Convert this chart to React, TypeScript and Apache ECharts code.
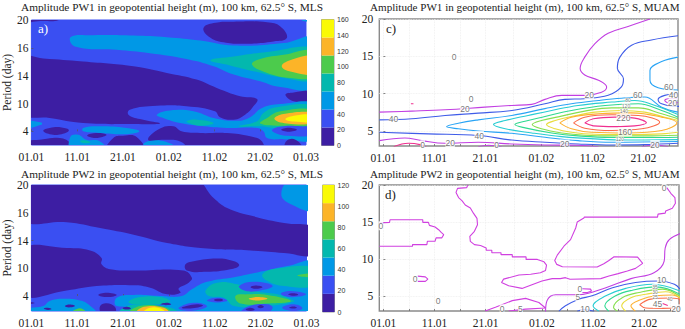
import React, { useEffect, useRef } from "react";
import * as echarts from "echarts";

type Pt = number[];
type Region = [number, Pt[]];

const SERIF = "Liberation Serif";
const titles = [
  "Amplitude PW1 in geopotential height (m), 100 km, 62.5° S, MLS",
  "Amplitude PW2 in geopotential height (m), 100 km, 62.5° S, MLS",
  "Amplitude PW1 in geopotential height (m), 100 km, 62.5° S, MUAM",
  "Amplitude PW2 in geopotential height (m), 100 km, 62.5° S, MUAM",
];
const dateLabels = ["01.01", "11.01", "21.01", "01.02", "11.02", "21.02", "01.03"];
const mlsPeriodLabels = ["4", "10", "14", "16", "20"];
const muamDays = [0, 10, 20, 31, 41, 51];
const muamTickDays = [0, 5, 10, 15, 20, 25.5, 31, 36, 41, 46, 51, 56];
const fillLevels = ["#3d1ea3", "#3a4ff2", "#0098e6", "#03b8ae", "#4ccb4c", "#fcb428", "#fafa05"];
const pw1Bar = [0, 160];
const pw2Bar = [0, 120];

// level indices
const D = 0, B = 1, A = 2, T = 3, G = 4, O = 5, Y = 6;

// Panel a: filled regions, x = date position (10 per label), y = period position (10 per label)
const regionsA: Region[] = [
  [D, [[-2, 42], [6, 42], [6, 40], [2, 39.6], [-2, 39.4]]],
  [A, [[58.4, 42], [62, 42], [62, 39], [60, 39.5], [59, 40]]],
  [D, [[37.6, 37.1], [39.8, 38.9], [44.2, 39.4], [51.5, 39.2], [54.4, 37.7], [55.8, 33.5], [52.9, 32.3], [47.1, 31.5], [42, 32], [38.7, 34.1]]],
  [A, [[8.6, 33.9], [13.5, 34.5], [22.3, 34.4], [29.6, 33.8], [36.9, 32.6], [44.2, 30.8], [55.1, 31.7], [62, 33.8], [63, 25], [62, 15.6], [54.4, 15.9], [50, 18], [44.2, 20.4], [39.8, 23.4], [33.9, 26], [25.9, 28.1], [18.6, 29.3], [9.5, 30.5]]],
  [T, [[39.1, 25.5], [44.2, 26.9], [51.5, 28.5], [62, 30], [63, 24], [62, 18.5], [55.1, 19.2], [48.5, 21.6], [43.4, 23.7]]],
  [G, [[48.2, 24], [50, 26], [55.1, 27.5], [62, 29], [63, 24], [62, 19.5], [56.6, 19.2], [51.5, 21]]],
  [O, [[54.7, 23.4], [57.3, 26], [62, 27], [63, 24], [62, 20.7], [57.3, 21.2]]],
  [D, [[-2, 26.6], [2.6, 26.2], [11.3, 25.1], [22.3, 23.4], [29.6, 21], [36.1, 18.6], [40.5, 15.6], [45.6, 12.6], [49.3, 11.6], [48.5, 9], [46.7, 6], [44.2, 4.2], [41.2, 5.1], [40.1, 7.2], [33.9, 9], [27.4, 9.2], [21.5, 7.8], [21.2, 6], [23.7, 4.4], [28.1, 2.8], [22.3, 2.6], [11.3, 3], [4, 4.8], [-2, 6.3], [-3, 16]]],
  [D, [[55.5, 13.2], [57.3, 14], [62, 14.4], [63, 12], [62, 10.4], [57.3, 10.8]]],
  [A, [[27.4, 6], [30.3, 7.5], [35.4, 7.2], [39.8, 4.8], [44.9, 3.8], [47.8, 5.1], [50.4, 8.4], [54.4, 9.8], [62, 9.9], [63, 3], [62, -3], [55.1, -2.8], [51.5, -2.4], [50.7, 0], [49.3, 1.2], [42.7, 1.2], [36.9, 2], [32.5, 3], [28.8, 4.8]]],
  [T, [[33.9, 3.6], [36.1, 4.2], [39.8, 3], [36.9, 2], [34.7, 2.8]]],
  [T, [[45.3, 1.8], [49.3, 3.6], [50.7, 6.6], [53.6, 8.7], [62, 9.2], [63, 5], [62, 1], [52.9, 1.2], [50, 1.8]]],
  [G, [[50, 2.8], [51.5, 4.8], [54.4, 7.2], [62, 7.8], [63, 5], [62, 2.5], [55.1, 2]]],
  [O, [[53.1, 4.4], [55.1, 6.2], [62, 6.8], [63, 5], [62, 3], [55.8, 2.8]]],
  [Y, [[55.5, 4.4], [57.7, 5.7], [62, 6], [63, 5], [62, 3.5], [57.3, 3.5]]],
  [B, [[52.6, 0.6], [55.1, 1.8], [58.8, 1.8], [62, 1.3], [62, -1.2], [55.8, -1.6], [53.3, -0.6]]],
  [D, [[54.6, 0.6], [56.2, 1.3], [58, 0.6], [56.2, -0.1]]],
  [D, [[55.5, -6], [55.8, -3.4], [57.7, -3], [59.1, -6]]],
  [A, [[-2, 3.6], [2.2, 3.2], [2.2, 2.4], [-2, 1.2]]],
  [D, [[2.6, 0.2], [4, 1.2], [6.6, 1.4], [8.2, 0.4], [6.6, -1], [4, -1]]],
  [A, [[11.3, 1.2], [15, 1.8], [20.8, 1.2], [23.6, 0], [20.8, -1], [15, -0.6], [11.3, 0]]],
  [D, [[12.2, -1.4], [14.2, -0.6], [16.4, -1.2], [15, -2.2], [13.1, -2.2]]],
  [D, [[-2, -4.2], [2.6, -2.8], [6.2, -2.4], [8.4, -4.2], [8.2, -7], [-2, -7]]],
  [A, [[8.5, -2], [10.2, -1.2], [12, -3], [15, -3.6], [16.4, -7], [8.8, -7]]],
  [T, [[10.6, -3.5], [11.7, -3.2], [12.9, -4], [11.3, -4.2]]],
  [D, [[16.4, -7], [17.9, -2.4], [20, -1.6], [23, -2], [24.5, -7]]],
  [A, [[24.8, -4], [28.8, -3.5], [32.5, -7], [24.8, -7]]],
  [D, [[25.5, -3], [28.1, 1], [31, 1.8], [32.8, 0], [36.9, -0.6], [42.7, -0.6], [47.8, -1.8], [50.4, -3.6], [50.4, -7], [35.4, -7], [32.5, -3.6], [28.8, -3]]],
];

// Panel b: filled regions
const regionsB: Region[] = [
  [D, [[-2, 42], [35.4, 42], [39.8, 35.2], [42.7, 31.7], [48.5, 28.7], [55.1, 26.3], [62, 24.7], [63, 20], [62, 14.7], [55.1, 15.5], [47.8, 16.4], [38.3, 17.1], [29.6, 19.1], [22.3, 22.1], [15, 24.5], [7.7, 26.6], [-2, 26.9], [-3, 35]]],
  [A, [[54.5, 36.7], [56.6, 42], [62, 42], [63, 36], [62, 30.7], [56.6, 33.1]]],
  [D, [[-2, 17.3], [7.7, 17.3], [12.8, 16.4], [15.3, 13.7], [15.3, 11.4], [17.2, 9.6], [22.3, 9.2], [33.1, 9.2], [35, 6.6], [34.3, 4.8], [32.1, 2.7], [32.5, 1.2], [29.6, 0.6], [25.9, 3], [22.3, 3.9], [14.2, 3.6], [7.7, 2], [-2, 0], [-3, 9]]],
  [D, [[33.6, 11.4], [35.4, 12.5], [40.5, 13.5], [44.2, 12.5], [45.3, 11], [43.4, 9.6], [38.3, 8.7], [33.9, 9.2]]],
  [A, [[18.6, -0.6], [22.3, 0.4], [28.1, 0], [32.8, 0], [35, 2.4], [38.3, 5.1], [44.2, 6.8], [50.7, 9], [55.8, 10.8], [62, 12.3], [63, 3], [62, -7], [31, -7], [28.8, -3.6], [18.6, -3.6]]],
  [T, [[50.4, 7.8], [53.6, 9.9], [62, 10.4], [63, 7], [62, 3.6], [55.1, 3.6], [51.5, 5.4]]],
  [G, [[58, 7.4], [62, 8.1], [62, 6.8]]],
  [T, [[38, 2], [40.5, 4.8], [44.9, 4.2], [48.5, 1.8], [53.6, 0.6], [56.6, -1.2], [57.3, -2], [51.5, -3.6], [44.2, -3.6], [42, -0.6], [38.7, 0]]],
  [G, [[44.5, 0], [47.1, 0.6], [51.5, 0.4], [56.6, -1.8], [51.5, -2.7], [45.6, -2.7]]],
  [O, [[47.4, -1], [49.3, -0.4], [51.5, -1], [49.3, -1.6]]],
  [B, [[45.3, 3.6], [48.5, 5.1], [52.6, 3.6], [49.3, 1.8], [46.4, 2]]],
  [D, [[47.8, 3.2], [48.9, 3.8], [50.4, 3.2], [48.9, 2.6]]],
  [B, [[54.4, 0.8], [56.6, 1.8], [59.9, 0.6], [56.6, -0.4]]],
  [D, [[56, 0.6], [57.2, 1], [58.2, 0.5], [56.9, 0.1]]],
  [B, [[32.1, -4.2], [35.4, -2.4], [38.3, -3.6], [36.1, -5.1], [32.8, -5.1]]],
  [D, [[32.8, -4.2], [36.1, -3], [37.4, -3.5], [34.7, -4.5]]],
  [B, [[38.3, -1.6], [40.5, -0.6], [42.7, -1.6], [40.5, -2.3]]],
  [D, [[39.8, -1.4], [40.9, -1], [41.8, -1.4], [40.9, -1.9]]],
  [B, [[45.6, -6.5], [47.1, -3.9], [51.5, -3], [52.6, -4.4], [50.7, -6.5]]],
  [D, [[46.7, -4.9], [47.8, -4.2], [48.7, -4.9], [47.8, -5.4]]],
  [D, [[49.3, -3.9], [50, -3.2], [50.7, -3.9], [50, -4.4]]],
  [B, [[54.7, -4.2], [57.3, -3], [59.1, -4.4], [57.3, -5.4]]],
  [D, [[56.2, -4.2], [57.2, -3.8], [57.9, -4.2], [57.2, -4.5]]],
  [T, [[21.2, -2], [23.7, -0.4], [28.1, -0.4], [30.3, -2], [28.1, -3], [22.3, -3]]],
  [T, [[19.3, -6], [21.9, -3.2], [30.3, -4.2], [31.8, -6]]],
  [G, [[21.5, -6], [23.7, -3.6], [28.8, -3.9], [30.3, -6]]],
  [O, [[23, -6], [24.5, -3.9], [28.8, -4.2], [29.9, -6]]],
  [Y, [[24.5, -6], [25.5, -4.4], [28.1, -4.4], [29.2, -6]]],
  [D, [[28.1, -3], [29.6, -2.4], [30.5, -3], [29.3, -3.3]]],
  [A, [[4, -1.8], [6.9, -1], [10.6, -1.6], [12.4, -3], [13.9, -6], [-2, -6.5], [-2, -4.8], [2.6, -3.6]]],
  [G, [[8.8, -6], [10.6, -4.4], [11.9, -6]]],
  [D, [[-2, -2], [0.7, -2.5], [-2, -3]]],
  [D, [[2.7, -4.5], [3.6, -4.2], [4.4, -4.7], [3.6, -5]]],
  [D, [[7.3, -3.6], [8.4, -3.1], [9.5, -3.6], [8.2, -4.1]]],
  [D, [[14.6, 0.4], [16.4, 1.2], [18.6, 0.4], [16.6, -0.4]]],
  [D, [[15, -3.6], [16.4, -2.6], [18.2, -3.9], [18.2, -6], [15.3, -6]]],
  [D, [[19.9, -4.4], [20.8, -3.9], [21.7, -4.5], [20.8, -4.9]]],
];

const PURPLE = "#c23fe2", BLUE = "#3f5ce8", AZURE = "#29a4f5", CYAN = "#27cdd2", SEA = "#2fd990", LIME = "#86df4f",
  YEL = "#e9dc3d", ORG = "#fdb030", RED = "#fb6a4a", PINK = "#ef2f8f", MAGENTA = "#d040e0";

// Panel c: contour lines, x = day from 01.01, y = period (day)
const contoursC: [string, Pt[]][] = [
  [PURPLE, [[-0.8, 7.53], [5.6, 7.67], [12.1, 7.85], [19.9, 8.2], [25.2, 8.43], [29.1, 8.57], [31.7, 9.24], [35, 9.78], [39.5, 9.78], [42.8, 10.2], [43.8, 10.9], [42.2, 11.8], [39.5, 12.5], [38.6, 13.4], [39.5, 14.9], [41.5, 16.7], [44.1, 18.1], [48, 19], [52.3, 20]]],
  [BLUE, [[-0.8, 6.5], [5.6, 6.64], [12.1, 7.09], [18.6, 7.4], [25.2, 7.76], [31.7, 8.65], [35.6, 9.24], [39.5, 9.33], [44.1, 9.78], [46.7, 10.9], [47.1, 12], [45.9, 13.4], [46.4, 14.9], [48.7, 16.5], [52.6, 17.2], [57.8, 17.76]]],
  [AZURE, [[57.8, 14.9], [54.6, 14.3], [52.3, 13.1], [52.3, 11.8], [53.9, 10.8], [57.8, 10.5]]],
  [AZURE, [[57.8, 7.53], [54.6, 8.2], [51.3, 9.55], [46.7, 9.4], [42.2, 9.1], [36.9, 8.65], [31.7, 8], [25.2, 7.09], [18.6, 6.5], [14.7, 6.05], [12.4, 5.6], [14.7, 5.3], [18.6, 5], [25.2, 4.7], [31.7, 4.17], [38.2, 3.72], [44.8, 3.5], [57.8, 3.6]]],
  [CYAN, [[57.8, 7.2], [53.3, 8.43], [49.3, 9.1], [44.8, 8.88], [38.2, 8.43], [33, 7.76], [28.4, 7.09], [23.9, 6.41], [21.6, 5.87], [23.9, 5.3], [29.1, 4.75], [35, 4.26], [41.5, 3.95], [48, 3.8], [57.8, 3.85]]],
  [SEA, [[57.8, 6.86], [54.6, 7.76], [50, 8.65], [43.5, 8.43], [36.9, 7.76], [31.7, 6.95], [27.8, 6.32], [25.8, 5.87], [27.8, 5.43], [33, 4.75], [38.2, 4.35], [44.8, 4.13], [51.3, 4.13], [57.8, 4.17]]],
  [LIME, [[57.8, 6.64], [54.6, 7.31], [50, 8.1], [44.8, 8.1], [39.5, 7.67], [34.3, 6.9], [31, 6.41], [29.2, 5.87], [31, 5.3], [35, 4.75], [39.5, 4.44], [44.8, 4.35], [51.3, 4.35], [57.8, 4.44]]],
  [YEL, [[57.8, 6.41], [55.2, 6.86], [51.3, 7.53], [46.7, 7.76], [41.5, 7.53], [36.9, 6.95], [33.7, 6.41], [32, 5.87], [33.7, 5.3], [36.9, 4.84], [41.5, 4.57], [48, 4.53], [54.6, 4.62], [57.8, 4.84]]],
  [ORG, [[34.6, 6.1], [36.9, 6.86], [42.2, 7.31], [48.7, 7.44], [54.6, 6.86], [57.6, 6.1], [54.6, 5.07], [48, 4.75], [40.8, 4.84], [36.9, 5.3], [34.6, 6.1]]],
  [RED, [[37.3, 6.1], [39.5, 6.86], [44.8, 7.18], [50, 7.09], [54.2, 6.19], [50.7, 5.3], [44.8, 5.07], [39.5, 5.38], [37.3, 6.1]]],
  [PINK, [[39.5, 6.1], [41.2, 6.64], [45.4, 6.86], [49.3, 6.73], [51.6, 6.1], [49.3, 5.7], [45.4, 5.6], [41.2, 5.7], [39.5, 6.1]]],
  [BLUE, [[57.8, 10], [55.2, 9.78], [53.9, 9.24], [54.6, 8.65], [57.2, 8.3], [58, 8.3]]],
  [PURPLE, [[57.8, 9.33], [55.9, 9.33], [55.2, 9.1], [56.2, 8.74], [57.8, 8.83]]],
  [BLUE, [[-0.8, 4.84], [8.8, 4.62], [18.6, 4.4], [25.2, 3.8], [31.7, 3.5], [38.2, 3.27], [44.8, 3.14], [51.3, 3.18], [57.8, 3.36]]],
  [PURPLE, [[-0.8, 3.72], [4.2, 4.08], [7.5, 3.72], [12.1, 3.36], [18.6, 3.5], [25.2, 3.27], [31.7, 3.14], [38.2, 3.1], [42.2, 2.9]]],
  [PURPLE, [[50.7, 2.9], [53.3, 3.14], [55.9, 2.9]]],
  [PINK, [[2, 2.9], [4.9, 3.36], [7.2, 3.18], [8.5, 2.8]]],
  [PURPLE, [[18.6, 2.9], [20.6, 3.1], [23.2, 2.9]]],
  [PINK, [[5.4, 8.65], [5.9, 8.65]]],
];
const labelsC: [number, number, string][] = [
  [13.9, 14.93, "0"], [17.2, 9.24, "0"], [16, 8, "20"], [2, 6.55, "40"], [18.8, 4.4, "40"], [13.1, 3.36, "20"],
  [7.7, 3.18, "0"], [22.2, 3.1, "0"], [35.6, 3.27, "20"], [40.4, 9.78, "20"], [49.9, 9.78, "60"], [56, 10.9, "60"],
  [56.9, 9.78, "40"], [56.7, 8.7, "20"], [47.1, 6.7, "220"], [47.4, 4.9, "160"], [53.3, 3.2, "20"],
];
const stackLabelsC: [number, number, string][] = [
  [48, 9.15, "80"], [47.6, 8.4, "120"], [47.2, 7.65, "140"],
  [46.4, 3.9, "120"], [46.1, 3.15, "18"],
];

// Panel d: zero contours, traced through their stair corners
const contoursD: [string, Pt[]][] = [
  [MAGENTA, [[-0.8, 11.74], [5.7, 11.74], [5.7, 11.96], [8.5, 11.96], [8.6, 12.41], [10.1, 12.41], [10.3, 12.86], [11.4, 12.86], [11.8, 13.3], [11.3, 13.6], [10.8, 13.97], [10.1, 14.33], [9, 14.55], [8.8, 14.96], [7.7, 14.96], [7.7, 15.31], [1.3, 15.31], [1.2, 14.96], [-0.8, 14.87]]],
  [MAGENTA, [[16.5, 20], [16.3, 19.64], [14.5, 19.55], [14.2, 19], [14.7, 18.3], [15.4, 17.86], [16, 17.3], [17, 16.9], [17.6, 16.2], [18.3, 15.5], [18.4, 14.64], [17.8, 13.75], [16.9, 13.08], [17, 12.4], [17.8, 11.96], [19, 11.83], [20.1, 11.5], [20.1, 11.2], [21.2, 11.2], [21.2, 10.85], [23, 10.85], [23, 10.6], [25.2, 10.6], [25.2, 10.3], [27.9, 10.3], [27.9, 9.96], [30.1, 9.96], [31.4, 9.64], [31.9, 9.2], [31.7, 8.48], [30.7, 8.17], [28.8, 7.95], [26.5, 7.85], [23.5, 7.3], [23.1, 6.85], [24.5, 6.4], [27.1, 6.05], [31, 7.05], [33, 7.37], [34.6, 7.37], [35.6, 7.5], [36.5, 7.28], [42.5, 7.37], [44.1, 7.72], [45.9, 8.04], [47.7, 8.4], [49.3, 8.75], [50.7, 9.42], [49.7, 10.27], [45.1, 10.31], [44.1, 9.82], [43.1, 9.38], [41.8, 8.93], [35, 8.97], [33.9, 9.29], [33.5, 9.82], [34, 10.54], [35.3, 11.74], [36.6, 12.63], [37.6, 14.2], [37.9, 15], [39.2, 15.54], [39.3, 15.67], [53.6, 15.67], [53.7, 16.07], [55.1, 16.2], [55.2, 16.5], [56.5, 16.87], [57.1, 17.54], [57, 18.3], [56.2, 18.88], [55.4, 19.64]]],
  [MAGENTA, [[6.7, 7.7], [8.2, 7.6], [8.7, 7.3], [8.2, 7], [6.7, 7]]],
  [MAGENTA, [[38.9, 6], [40.5, 5.95], [40.7, 5.7], [39.9, 5.5], [38.9, 5.5]]],
  [MAGENTA, [[19.9, 3], [21.9, 3.5], [25.2, 4.4], [27.8, 4.7], [30.4, 4.15], [31.7, 3.4], [27.8, 3.25], [24.5, 3]]],
];
const smoothContoursD: [string, Pt[]][] = [
  [PURPLE, [[31.7, 2.8], [32, 4.4], [33.7, 5.2], [38.2, 5.2], [43.5, 6.15], [48.4, 7.37], [52.9, 8.17], [54.9, 9.73], [55.1, 11.5], [55.9, 12.63], [58.2, 13.5]]],
  [BLUE, [[34.3, 2.95], [35.6, 3.7], [38.2, 4.6], [40.8, 5.05], [44.8, 6.15], [49.3, 6.85], [53.9, 7.05], [56.9, 6.6], [58, 5.95]]],
  [BLUE, [[37.9, 2.95], [39.2, 3.2], [41.2, 2.95]]],
  [CYAN, [[42.2, 2.95], [41, 3.7], [43.5, 5.05], [47.4, 6.05], [52.6, 6.6], [58, 5.7]]],
  [SEA, [[44.1, 2.95], [43.3, 3.7], [45.4, 5.05], [48.7, 5.8], [53.3, 6.25], [58, 5.25]]],
  [LIME, [[45.8, 2.95], [45, 3.5], [46.7, 4.8], [50, 5.5], [54.6, 5.95], [58, 4.95]]],
  [YEL, [[47.4, 2.95], [46.6, 3.7], [48.4, 4.8], [51.3, 5.25], [55.2, 5.6], [58, 4.8]]],
  [ORG, [[49.3, 2.95], [48.4, 3.7], [50, 4.45], [53.3, 5.05], [56.5, 5.15], [58, 4.7]]],
  [RED, [[50.1, 3.85], [52.3, 4.6], [56.2, 4.75], [58, 4.4], [58, 3.5], [54.6, 3.35], [51.3, 3.4], [50.1, 3.85]]],
  [PINK, [[54.6, 4], [55.6, 3.75]]],
];
const labelsD: [number, number, string][] = [
  [-0.5, 14.5, "0"], [54.9, 19.55, "0"], [6.2, 7.3, "0"], [10.7, 4.4, "0"], [38.4, 6, "0"], [38, 4.9, "5"],
  [26.8, 3.3, "5"], [23.2, 3.3, "0"], [39.4, 3.3, "10"], [54.4, 7.25, "10"], [53.6, 4, "45"], [57.2, 3.3, "20"],
];
const stackLabelsD: [number, number, string][] = [
  [53.1, 6.3, "35"], [53.1, 5.6, "30"], [53.1, 4.95, "25"], [56, 4.6, "40"],
];

const panelBoxes = {
  a: { left: 31, top: 20, width: 275, height: 125 },
  b: { left: 31, top: 185, width: 275.5, height: 126.5 },
  c: { left: 379.3, top: 19, width: 298.7, height: 127 },
  d: { left: 379.3, top: 185, width: 299.7, height: 127 },
  barA: { left: 321.5, top: 19.5, width: 12.5, height: 126 },
  barB: { left: 322.5, top: 185, width: 12, height: 127 },
};

function fillSeries(regions: Region[], axis: number, smooth = 0.45) {
  return {
    type: "custom", xAxisIndex: axis, yAxisIndex: axis, clip: true, silent: true,
    data: regions.map((_, i) => [i]),
    renderItem: (p: any, api: any) => {
      const [lv, pts] = regions[p.dataIndex];
      return { type: "polygon", shape: { points: pts.map((q) => api.coord(q)), smooth }, style: { fill: fillLevels[lv] } };
    },
  };
}
function barSeries(range: number[], axis: number) {
  const step = (range[1] - range[0]) / fillLevels.length;
  return {
    type: "custom", xAxisIndex: axis, yAxisIndex: axis, silent: true,
    data: fillLevels.map((_, i) => [i]),
    renderItem: (p: any, api: any) => {
      const a = api.coord([0, step * p.dataIndex]);
      const b = api.coord([1, step * (p.dataIndex + 1)]);
      return { type: "rect", shape: { x: a[0], y: b[1], width: b[0] - a[0], height: a[1] - b[1] }, style: { fill: fillLevels[p.dataIndex] } };
    },
  };
}
function lineSeries(list: [string, Pt[]][], axis: number, smooth: number | boolean) {
  return list.map(([color, pts]) => ({
    type: "line", xAxisIndex: axis, yAxisIndex: axis, data: pts, smooth, showSymbol: false, symbol: "none", silent: true,
    lineStyle: { color, width: 1.1 },
  }));
}
function labelSeries(list: [number, number, string][], axis: number, fontSize = 8.5) {
  return {
    type: "scatter", xAxisIndex: axis, yAxisIndex: axis, symbolSize: 0, silent: true, z: 5,
    data: list,
    label: {
      show: true, position: "inside", formatter: (p: any) => p.data[2],
      fontFamily: "Liberation Sans", fontSize, color: "#555", backgroundColor: "#fff", padding: 0,
    },
  };
}

const axisFont = { fontFamily: SERIF, fontSize: 11.5, color: "#222" };
const tickStyle = { inside: true, length: 2, lineStyle: { color: "#555", width: 0.7 } };
const dotted = { show: true, lineStyle: { type: "dotted", color: "#ececec", width: 0.8 } };

function App() {
  const ref = useRef<HTMLDivElement>(null);
  useEffect(() => {
    document.body.style.margin = "0";
    const chart = echarts.init(ref.current!, undefined, { renderer: "svg" });
    const mlsGrid = (b: any) => ({ ...b, show: true, backgroundColor: fillLevels[B], borderColor: fillLevels[B], borderWidth: 1 });
    const muamGrid = (b: any) => ({ ...b, show: true, backgroundColor: "#fff", borderColor: "#8a8a8a", borderWidth: 1.4 });
    const mlsX = (i: number) => ({
      type: "value", gridIndex: i, min: 0, max: 60, interval: 10,
      axisLine: { show: false }, splitLine: { show: false }, axisTick: tickStyle,
      axisLabel: { ...axisFont, margin: 6, formatter: (v: number) => dateLabels[v / 10] },
    });
    const mlsY = (i: number, min: number) => ({
      type: "value", gridIndex: i, min, max: 40,
      name: "Period (day)", nameLocation: "middle", nameGap: 17, nameTextStyle: axisFont,
      axisLine: { show: false }, splitLine: { show: false },
      axisTick: { ...tickStyle, customValues: [0, 10, 20, 30, 40] },
      axisLabel: { ...axisFont, margin: 3, customValues: [0, 10, 20, 30, 40], formatter: (v: number) => mlsPeriodLabels[v / 10] },
    });
    const muamX = (i: number) => ({
      type: "value", gridIndex: i, min: -0.8, max: 57.8,
      axisLine: { show: false },
      splitLine: dotted,
      axisTick: { ...tickStyle, customValues: muamTickDays },
      axisLabel: { ...axisFont, margin: 6, customValues: muamDays, formatter: (v: number) => dateLabels[muamDays.indexOf(v)] },
    });
    const muamY = (i: number) => ({
      type: "value", gridIndex: i, min: 3, max: 20,
      axisLine: { show: false }, splitLine: dotted,
      axisTick: { ...tickStyle, customValues: [5, 10, 15, 20] },
      axisLabel: { ...axisFont, margin: 6, customValues: [5, 10, 15, 20] },
    });
    const barX = (i: number) => ({ type: "value", gridIndex: i, min: 0, max: 1, show: false });
    const barY = (i: number, range: number[]) => ({
      type: "value", gridIndex: i, min: range[0], max: range[1], interval: 20, position: "right",
      axisLine: { show: false }, axisTick: { show: false }, splitLine: { show: false },
      axisLabel: { fontFamily: "Liberation Sans", fontSize: 7, color: "#333", margin: 3 },
    });
    const titlePos = [[21, 1], [21, 168], [370, 1], [370, 168]];
    const titleSize = [11.3, 11.3, 11.1, 11.1];
    chart.setOption({
      animation: false,
      title: titles.map((text, i) => ({
        text, left: titlePos[i][0], top: titlePos[i][1], padding: 0,
        textStyle: { fontFamily: SERIF, fontSize: titleSize[i], fontWeight: "normal", color: "#222" },
      })),
      grid: [
        mlsGrid(panelBoxes.a), mlsGrid(panelBoxes.b),
        muamGrid(panelBoxes.c), muamGrid(panelBoxes.d),
        { ...panelBoxes.barA, show: true, borderColor: "#999" }, { ...panelBoxes.barB, show: true, borderColor: "#999" },
      ],
      xAxis: [mlsX(0), mlsX(1), muamX(2), muamX(3), barX(4), barX(5)],
      yAxis: [mlsY(0, -4.9), mlsY(1, -5.4), muamY(2), muamY(3), barY(4, pw1Bar), barY(5, pw2Bar)],
      series: [
        fillSeries(regionsA, 0),
        fillSeries(regionsB, 1),
        ...lineSeries(contoursC, 2, 0.4),
        labelSeries(labelsC, 2),
        labelSeries(stackLabelsC, 2, 5),
        ...lineSeries(contoursD, 3, false),
        ...lineSeries(smoothContoursD, 3, 0.4),
        labelSeries(labelsD, 3),
        labelSeries(stackLabelsD, 3, 5),
        barSeries(pw1Bar, 4),
        barSeries(pw2Bar, 5),
      ],
      graphic: [
        { type: "text", left: 38, top: 22, style: { text: "a)", font: `13px ${SERIF}`, fill: "#fff" } },
        { type: "text", left: 38, top: 188, style: { text: "b)", font: `13px ${SERIF}`, fill: "#fff" } },
        { type: "text", left: 386, top: 22, style: { text: "c)", font: `13px ${SERIF}`, fill: "#222" } },
        { type: "text", left: 385, top: 188, style: { text: "d)", font: `13px ${SERIF}`, fill: "#222" } },
      ],
    });
    return () => chart.dispose();
  }, []);
  return <div ref={ref} style={{ position: "absolute", left: 0, top: 0, width: 685, height: 329, background: "#fff" }} />;
}

export default App;
